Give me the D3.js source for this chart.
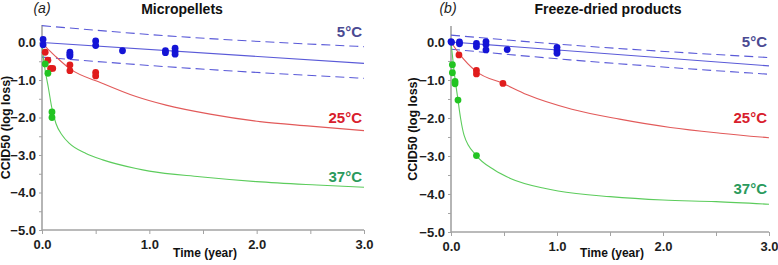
<!DOCTYPE html>
<html><head><meta charset="utf-8">
<script src="https://cdn.jsdelivr.net/npm/d3@7"></script>
<style>body{margin:0;background:#fff}svg{display:block}text{font-family:"Liberation Sans",Arial,sans-serif}</style>
</head><body>
<svg id="c" width="778" height="265"></svg>
<script>
// ---- data ----
const panelTitles = ["Micropellets", "Freeze-dried products"];
const panelTags = ["(a)", "(b)"];
const seriesLabels = ["5°C", "25°C", "37°C"];
const xTicks = [0, 1, 2, 3];
const yTicks = [-5, -4, -3, -2, -1, 0];

// Panel (a) Micropellets: points [time, log loss]
const aBluePts = [[0.01,0.08],[0.01,-0.06],[0.26,-0.26],[0.26,-0.31],[0.26,-0.36],[0.5,0.04],[0.5,-0.08],[0.75,-0.22],[1.15,-0.22],[1.15,-0.27],[1.24,-0.15],[1.24,-0.24],[1.24,-0.31]];
const aRedPts = [[0.03,-0.26],[0.055,-0.47],[0.08,-0.69],[0.1,-0.69],[0.26,-0.6],[0.26,-0.75],[0.5,-0.8],[0.5,-0.89]];
const aGreenPts = [[0.03,-0.57],[0.055,-0.82],[0.093,-1.85],[0.093,-2.0]];
const aBlueFit = [[0,0],[3,-0.555]];
const aBlueUpper = [[0,0.45],[1.16,0.18],[3,-0.11]];
const aBlueLower = [[0,-0.39],[1.16,-0.645],[3,-0.955]];
const aRedFit = [[0,0],[0.04,-0.13],[0.13,-0.38],[0.255,-0.69],[0.566,-1.09],[0.876,-1.44],[1.156,-1.67],[1.566,-1.91],[2.03,-2.11],[2.5,-2.23],[3.0,-2.35]];
const aGreenFit = [[0,0],[0.012,-0.38],[0.03,-0.75],[0.059,-1.2],[0.09,-1.72],[0.13,-2.16],[0.19,-2.48],[0.255,-2.69],[0.41,-2.96],[0.566,-3.13],[0.876,-3.36],[1.0,-3.43],[1.47,-3.58],[2.0,-3.71],[2.56,-3.80],[3.0,-3.86]];

// Panel (b) Freeze-dried products
const bBluePts = [[0,0.01],[0.005,-0.01],[0.08,0.0],[0.08,-0.05],[0.24,-0.04],[0.24,-0.12],[0.33,0.01],[0.33,-0.07],[0.33,-0.21],[0.53,-0.2],[1.0,-0.14],[1.0,-0.23],[1.0,-0.3]];
const bRedPts = [[0.075,-0.34],[0.24,-0.75],[0.24,-0.84],[0.49,-1.09]];
const bGreenPts = [[0.013,-0.6],[0.013,-0.81],[0.038,-1.04],[0.038,-1.1],[0.066,-1.53],[0.24,-2.99]];
const bBlueFit = [[0,0],[3,-0.63]];
const bBlueUpper = [[0,0.18],[1.12,-0.08],[3,-0.41]];
const bBlueLower = [[0,-0.19],[1.12,-0.47],[3,-0.85]];
const bRedFit = [[0,0],[0.075,-0.3],[0.24,-0.78],[0.49,-1.09],[0.72,-1.39],[1.14,-1.77],[1.59,-2.03],[2.07,-2.25],[2.54,-2.40],[3.0,-2.52]];
const bGreenFit = [[0,0],[0.028,-0.74],[0.066,-1.53],[0.09,-2.0],[0.123,-2.45],[0.24,-2.99],[0.41,-3.37],[0.56,-3.59],[0.88,-3.85],[1.01,-3.92],[1.5,-4.07],[2.0,-4.16],[2.5,-4.2],[3.0,-4.27]];

// ---- layout ----
const panels = [
  {x0:42, x1:364, yTop:24.9, yBot:230, yMax:0.47, tagX:42, titleX:182, ylabX:10, lab:[37.3,122.7,181.7], labR:362,
   pts:[aBluePts,aRedPts,aGreenPts], fit:[aBlueFit,aRedFit,aGreenFit], up:aBlueUpper, lo:aBlueLower},
  {x0:451, x1:769, yTop:26, yBot:232, yMax:0.42, tagX:448, titleX:608, ylabX:417, lab:[46.7,123.3,194.3], labR:767,
   pts:[bBluePts,bRedPts,bGreenPts], fit:[bBlueFit,bRedFit,bGreenFit], up:bBlueUpper, lo:bBlueLower}
];
const ptCol = ["#1414d6","#e01c1c","#22c422"];
const lnCol = ["#5a5ad8","#e25a5a","#5ccc5c"];
const labCol = ["#4a4a92","#d8202c","#2a9a5c"];
const axCol = "#a3a3a3";

const svg = d3.select("#c");
panels.forEach((p, i) => {
  const x = d3.scaleLinear().domain([0,3]).range([p.x0, p.x1]);
  const y = d3.scaleLinear().domain([-5, p.yMax]).range([p.yBot, p.yTop]);
  const g = svg.append("g");
  const line = d3.line().x(d=>x(d[0])).y(d=>y(d[1])).curve(d3.curveMonotoneX);

  // axes
  const xa = g.append("g").attr("transform",`translate(0,${p.yBot})`)
    .call(d3.axisBottom(x).tickValues(d3.range(0,3.01,0.5)).tickSize(4).tickFormat(d=> xTicks.includes(d)? d3.format(".1f")(d):""));
  const ya = g.append("g").attr("transform",`translate(${p.x0},0)`)
    .call(d3.axisLeft(y).tickValues(d3.range(-5,0.01,0.5)).tickSize(3).tickFormat(d=> yTicks.includes(d)? d3.format(".1f")(d).replace("-0.0","0.0"):""));
  [xa, ya].forEach(a => {
    a.select(".domain").attr("stroke", axCol).attr("stroke-width",1.6);
    a.selectAll(".tick line").attr("stroke", axCol).attr("stroke-width",1);
    a.selectAll(".tick text").attr("fill","#1e1e1e").attr("font-weight","bold").attr("font-size","13px")
      .attr("font-family","'Liberation Sans',Arial,sans-serif");
  });
  ya.select(".domain").attr("d", `M0,${p.yTop}V${p.yBot}`);
  xa.select(".domain").attr("d", `M${p.x0},0H${p.x1}`);
  xa.selectAll(".tick text").attr("dy","0.9em");

  // bands and fits
  [p.up, p.lo].forEach(b => g.append("path").datum(b).attr("d", line).attr("fill","none")
    .attr("stroke", lnCol[0]).attr("stroke-width",1.1).attr("stroke-dasharray","9,5"));
  p.fit.forEach((f, k) => g.append("path").datum(f).attr("d", line).attr("fill","none")
    .attr("stroke", lnCol[k]).attr("stroke-width",1.1));

  // points
  p.pts.forEach((s, k) => g.append("g").selectAll("circle").data(s).join("circle")
    .attr("cx", d=>x(d[0])).attr("cy", d=>y(d[1])).attr("r",3.4).attr("fill", ptCol[k]));

  // labels
  seriesLabels.forEach((t, k) => g.append("text").attr("x", p.labR).attr("y", p.lab[k])
    .attr("text-anchor","end").attr("font-weight","bold").attr("font-size","15px").attr("fill", labCol[k]).text(t));
  g.append("text").attr("x", p.tagX).attr("y", 13).attr("text-anchor","middle").attr("font-style","italic")
    .attr("font-size","14px").attr("fill","#222").text(panelTags[i]);
  g.append("text").attr("x", p.titleX).attr("y", 13.5).attr("text-anchor","middle").attr("font-weight","bold")
    .attr("font-size","14px").attr("fill","#111").text(panelTitles[i]);
  g.append("text").attr("transform",`translate(${p.ylabX},${(p.yTop+p.yBot)/2}) rotate(-90)`)
    .attr("text-anchor","middle").attr("font-weight","bold").attr("font-size","12.5px").attr("fill","#111").text("CCID50 (log loss)");
  g.append("text").attr("x", (p.x0+p.x1)/2 + 2).attr("y", 257).attr("text-anchor","middle").attr("font-weight","bold")
    .attr("font-size","12px").attr("fill","#111").text("Time (year)");
});
</script>
</body></html>
